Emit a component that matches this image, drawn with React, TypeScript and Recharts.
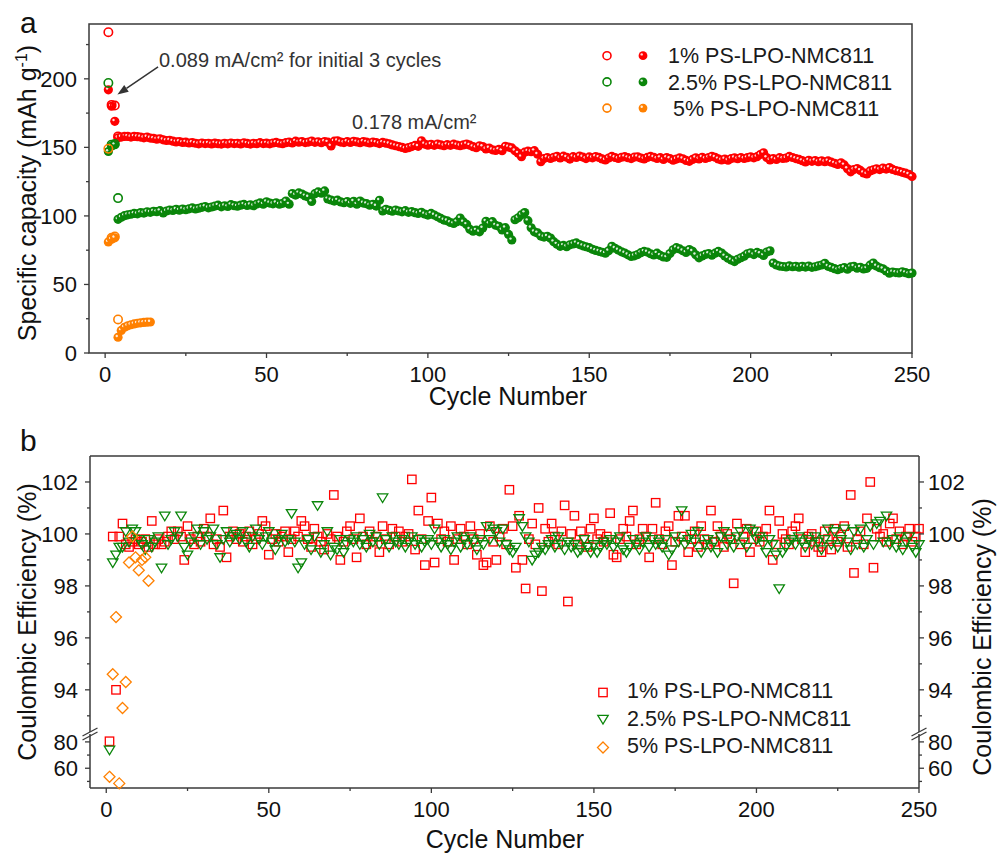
import React from 'react';
import { ScatterChart, Scatter, XAxis, YAxis, ReferenceArea, ReferenceLine } from 'recharts';

const FONT = '"Liberation Sans", Arial, sans-serif';
const RED = '#ff0000';
const GREEN = '#0a860a';
const ORANGE = '#ff8000';
const AXIS = '#3a3a3a';
const INK = '#111';

// ---- panel a: specific capacity (mAh/g) ----
// open circles: charge capacity of the first cycles (cycle 1..4)
const redCharge = [234, 181, 180.5, 158];
const greenCharge = [197, 152, 152.5, 113];
const orangeCharge = [149, 84, 85, 24.5];

// filled circles: discharge capacity, cycle 1..n
const redDischarge = [
  192, 180, 169, 157, 157.5, 158, 158, 157.5, 158, 157.8,
  157.5, 157, 157.5, 156.8, 156.5, 156, 156.3, 155.5, 155, 155.2,
  154.5, 154, 154.2, 153.6, 153.8, 153.2, 153.5, 153, 152.6, 153.2,
  152.8, 153, 152.5, 153.1, 152.7, 152.4, 153, 152.6, 153.2, 152.8,
  153, 152.5, 153.3, 152.9, 152.4, 153, 152.7, 153.4, 152.8, 153.1,
  152.6, 153.2, 153.6, 153, 152.7, 153.4, 153.9, 153.2, 154.5, 153.8,
  154.2, 153.5, 153.9, 154.6, 153.7, 154.1, 153.4, 154.3, 153.8, 151,
  154.5, 154.8, 153.9, 153.5, 154.2, 153.6, 154.4, 154, 153.4, 154.2,
  153.8, 153.2, 153.9, 153.5, 152.8, 153.6, 153.1, 152.6, 151.8, 151.2,
  150.6, 150, 149.2, 149.8, 150.6, 151.4, 150.8, 154.8, 152.4, 151.6,
  152.2, 151.5, 152.4, 151.8, 151.2, 152, 151.5, 152.3, 151.7, 151.2,
  151.8, 152.4, 151.6, 150.5, 149.8, 151.2, 150.6, 148.8, 149.5, 148.2,
  147.8, 148.5, 147.6, 150.8, 150.2, 149.6, 147.5, 145.8, 143.2, 146.5,
  147.2, 146.8, 147.6, 145, 139.5, 141.8, 142.6, 141.9, 142.8, 143.5,
  142.3, 143.6, 142.8, 141.5, 143.2, 142.6, 143.7, 142.9, 141.8, 143,
  142.4, 143.3, 142.7, 141.6, 140.8, 142.2, 143.4, 142.6, 141.9, 142.8,
  143.2, 142.5, 141.8, 142.9, 143.1, 142.2, 141.6, 142.7, 143.4, 142.8,
  141.9, 142.5, 141.2, 142.6, 141.8, 140.6, 141.5, 142.3, 141.7, 140.5,
  139.8, 141.2, 142.4, 141.6, 142.8, 141.9, 142.6, 143.5, 142.8, 141.6,
  140.8, 141.5, 140.6, 141.8, 142.4, 141.7, 142.6, 141.9, 142.5, 143.1,
  142.4, 143.2, 144.8, 146, 142.6, 140.8, 141.8, 141.2, 142.5, 141.9,
  142.2, 143.4, 142.6, 141.8, 141.2, 140.3, 139.4, 140.6, 139.8, 140.4,
  139.6, 140.2, 139.5, 140.1, 139.2, 138.4, 137.6, 138.8, 137.2, 134.5,
  132.2, 133.8, 134.6, 133.2, 131.4, 130.6, 132.8, 133.6, 134.4, 133.8,
  134.9, 134.2, 135.3, 133.9, 133.1, 132.6, 131.8, 131.2, 130.4, 128.8,
];

const greenDischarge = [
  147, 151, 152, 97.5, 99, 100.2, 100.8, 101.2, 101.8, 101.5,
  102.4, 102.1, 103, 102.6, 103.4, 103.1, 103.8, 102.2, 103.6, 104.3,
  104, 104.8, 104.2, 105, 104.5, 105.2, 105.8, 105.1, 105.6, 106.3,
  106.8, 105.9, 106.5, 107.2, 107.8, 106.6, 107.4, 106.9, 108.2, 107.5,
  107.1, 107.8, 108.4, 107.6, 108.1, 107.4, 108.7, 109.5, 108.6, 110.3,
  109.4, 108.8, 109.6, 108.5, 109.2, 110.8, 108.6, 116.3, 115.2, 116.8,
  115.9, 114.6, 113.8, 110.5, 116.2, 117.5, 116.6, 118.2, 112.4, 111.6,
  110.8, 111.5, 110.2, 109.6, 110.5, 109.2, 110.7, 108.6, 110.8, 109.4,
  108.9, 107.8, 108.5, 107.2, 111.4, 103.6, 104.8, 104.1, 103.4, 104.3,
  103.6, 103, 103.8, 102.6, 103.2, 102.4, 101.8, 102.6, 101.4, 100.6,
  101.8, 100.6, 99.4, 98.2, 97, 96.4, 95.2, 94.5, 95.8, 98.4,
  95.6, 93.8, 90.2, 88.9, 89.6, 88.4, 91.2, 96.1, 94.4, 95.8,
  93.2, 92.4, 89.8, 91.4, 86.5, 82.5, 97.2, 98.6, 100.8, 102.4,
  96.5, 91.3, 88.4, 87.6, 85.3, 84.6, 85.1, 83.8, 81.2, 79.4,
  77.8, 78.5, 77.6, 78.9, 79.6, 80.3, 79.1, 78.2, 77.5, 76.8,
  75.6, 74.8, 74.2, 73.5, 72.8, 74.6, 77.8, 76.4, 75.1, 73.8,
  72.9, 71.6, 70.4, 70.9, 71.8, 73.2, 74.1, 73.6, 72.4, 71.5,
  72.8, 71.2, 70.1, 69.8, 72.6, 75.3, 76.8, 75.9, 74.6, 73.4,
  75.5, 74.2, 71.6, 69.4, 70.8, 71.9, 72.6, 71.4, 72.8, 74.1,
  72.9, 70.8, 69.2, 67.8, 66.7, 68.4, 69.5, 70.6, 72.4, 73.1,
  71.8, 73.4, 72.6, 71.2, 73.6, 74.5, 65.6, 64.2, 63.4, 63.1,
  62.8, 63.5, 62.9, 63.3, 62.6, 63.2, 62.7, 63.4, 62.5, 62.9,
  63.6, 64.2, 65.4, 63.2, 62.4, 61.5, 60.8, 61.6, 62.3, 61.1,
  62.8, 63.2, 61.9, 62.5, 61.3, 61.8, 64.1, 65.6, 63.4, 62.2,
  61.4, 59.8, 58.2, 59.1, 58.7, 58.4, 59.2, 58.6, 57.9, 58.3,
];

const orangeDischarge = [81, 83, 84, 11.5, 16.5, 18.8, 19.8, 20.6, 21.2, 21.7, 22, 22.3, 22.5, 22.6];

// ---- panel b: coulombic efficiency (%) ----
const redCE = [
  80.5, 99.9, 94.0, 99.9, 100.4, 99.6, 99.5, 99.7, 99.8, 99.6,
  99.7, 99.8, 99.5, 100.5, 99.6, 99.8, 99.6, 99.7, 99.9, 100.1,
  99.8, 100.1, 99.9, 99.0, 100.3, 99.8, 99.6, 99.9, 99.7, 100.2,
  99.9, 100.6, 99.6, 99.8, 99.5, 100.9, 99.1, 99.9, 100.1, 99.8,
  100.0, 99.7, 99.9, 100.1, 99.6, 99.8, 100.0, 100.5, 100.3, 99.2,
  99.8, 100.0, 99.7, 99.9, 100.1, 99.3, 99.8, 100.1, 99.9, 100.5,
  100.3, 99.8, 99.5, 100.2, 99.9, 99.7, 99.4, 100.0, 99.8, 101.5,
  99.9, 99.0, 99.7, 100.1, 100.3, 99.8, 99.1, 100.6, 99.9, 99.6,
  100.1, 99.7, 99.9, 99.3, 100.3, 99.8, 99.6, 100.2, 99.9, 100.1,
  99.7, 99.9, 100.0, 102.1, 99.4, 100.9, 99.8, 98.8, 100.5, 101.4,
  98.9, 100.4, 99.8, 100.1, 99.7, 100.3, 99.0, 99.8, 100.2, 99.9,
  99.6, 100.3, 99.8, 99.2, 100.0, 98.8, 98.9, 100.3, 99.7, 99.0,
  99.9, 100.2, 99.6, 101.7, 100.3, 98.7, 100.7, 99.0, 97.9, 99.8,
  100.4, 99.6, 101.0, 97.8, 100.2, 99.7, 100.4, 99.9, 99.6, 100.1,
  101.1, 97.4, 100.0, 100.7, 99.6, 100.1, 99.8, 99.5, 100.2, 100.6,
  99.8, 100.0, 99.7, 99.9, 100.8, 99.2, 99.1, 99.8, 100.2, 99.9,
  100.5, 100.9, 99.6, 99.8, 100.2, 99.9, 99.1, 100.2, 101.2, 99.8,
  99.6, 100.1, 100.3, 98.8, 99.7, 100.7, 99.9, 100.7, 99.3, 99.8,
  100.1, 99.5, 100.3, 99.8, 99.6, 100.9, 99.7, 100.3, 99.9, 99.5,
  100.0, 99.8, 98.1, 100.4, 99.6, 99.9, 100.2, 99.3, 99.8, 100.1,
  99.7, 99.9, 100.2, 100.9, 99.0, 99.6, 100.5, 100.0, 99.8, 99.6,
  100.1, 100.3, 100.6, 99.8, 99.3, 99.9, 100.0, 99.7, 99.5, 99.3,
  100.1, 99.8, 99.4, 100.2, 99.7, 99.9, 100.3, 99.5, 101.5, 98.5,
  99.8, 100.1, 99.6, 100.6, 102.0, 98.7, 100.2, 99.9, 100.0, 99.7,
  100.4, 100.6, 99.8, 100.1, 99.6, 99.9, 100.2, 99.7, 99.9, 100.2,
];

const greenCE = [
  74.0, 98.9, 99.2, 99.5, 99.5, 100.1, 99.7, 100.2, 100.1, 99.8,
  99.6, 99.4, 99.8, 99.5, 99.7, 99.9, 98.7, 100.7, 99.6, 99.8,
  100.1, 99.9, 100.7, 99.5, 99.2, 99.7, 99.9, 100.2, 99.6, 100.1,
  99.8, 99.9, 100.2, 99.6, 99.1, 99.8, 100.1, 99.7, 99.9, 100.0,
  99.8, 100.1, 99.7, 99.5, 99.9, 100.2, 99.8, 99.6, 99.9, 100.1,
  99.7, 99.4, 99.8, 100.0, 99.7, 99.8, 100.8, 99.7, 98.7, 98.9,
  99.6, 99.8, 99.4, 99.9, 101.1, 99.3, 99.6, 100.1, 99.2, 99.5,
  99.4, 99.8, 99.3, 99.6, 99.8, 99.7, 99.9, 99.6, 99.8, 99.5,
  100.0, 99.7, 99.9, 99.6, 101.4, 99.8, 99.5, 99.9, 99.7, 99.6,
  99.8, 99.5, 99.7, 99.9, 99.6, 99.8, 99.5, 99.7, 99.8, 99.6,
  100.2, 99.7, 99.5, 99.8, 99.6, 99.4, 99.7, 99.9, 99.5, 99.8,
  99.6, 99.9, 99.7, 99.4, 99.8, 99.6, 100.3, 99.8, 100.2, 100.1,
  99.7, 100.2, 99.6, 99.4, 99.3, 99.5, 100.6, 100.3, 99.9, 99.7,
  99.0, 99.2, 99.3, 99.5, 99.4, 99.6, 99.8, 99.5, 99.9, 99.6,
  99.4, 99.7, 99.5, 99.6, 99.3, 99.4, 99.8, 99.5, 99.3, 99.6,
  99.3, 99.5, 99.7, 99.6, 99.8, 99.5, 99.7, 99.9, 99.4, 99.3,
  99.5, 99.8, 99.6, 99.4, 99.7, 99.9, 99.5, 99.8, 99.6, 99.7,
  99.5, 99.8, 99.2, 99.4, 99.9, 99.7, 100.9, 99.6, 99.8, 100.0,
  99.7, 100.1, 99.3, 99.6, 99.8, 99.5, 99.7, 99.3, 99.9, 100.1,
  99.6, 99.8, 99.5, 99.9, 100.1, 99.7, 99.5, 100.2, 100.1, 99.8,
  99.9, 99.6, 99.3, 99.8, 99.6, 99.2, 97.9, 99.3, 99.5, 99.7,
  99.8, 99.6, 99.9, 99.7, 99.5, 99.8, 99.6, 99.9, 99.7, 99.4,
  99.8, 100.2, 99.6, 100.1, 99.5, 99.8, 100.2, 99.7, 99.4, 100.1,
  99.6, 100.2, 99.5, 99.8, 100.3, 99.6, 100.4, 100.5, 99.7, 100.7,
  99.6, 99.8, 99.5, 99.9, 99.4, 99.7, 99.9, 99.5, 99.3, 99.6,
];

const orangeCE = [53.5, 94.6, 96.8, 48.5, 93.3, 94.3, 98.9, 99.9, 99.1, 98.6, 99.0, 99.1, 98.2];

const seriesNames = ['1% PS-LPO-NMC811', '2.5% PS-LPO-NMC811', '5% PS-LPO-NMC811'];

const xTicks = [0, 25, 50, 75, 100, 125, 150, 175, 200, 225, 250];
const xMajor = [0, 50, 100, 150, 200, 250];
const capTicks = [0, 25, 50, 75, 100, 125, 150, 175, 200, 225];
const capMajor = [0, 50, 100, 150, 200];
const ceHiTicks = [93, 94, 95, 96, 97, 98, 99, 100, 101, 102];
const ceHiMajor = [94, 96, 98, 100, 102];
const ceLoTicks = [50, 60, 70, 80];
const ceLoMajor = [60, 80];

const pts = (vals: number[]) => vals.map((v, i) => ({ cycle: i + 1, v }));
const hi = (vals: number[]) => pts(vals).filter((p) => p.v >= 90);
const lo = (vals: number[]) => pts(vals).filter((p) => p.v < 90);

// ---- marker shapes ----
const Sphere = ({ cx, cy, color, r = 4.6 }: any) => (
  <g>
    <circle cx={cx} cy={cy} r={r} fill={color} />
    <circle cx={cx - 1.3} cy={cy - 1.3} r={1.2} fill="#fff" fillOpacity={0.85} />
  </g>
);
const Ring = ({ cx, cy, color, r = 4.2 }: any) => (
  <circle cx={cx} cy={cy} r={r} fill="none" stroke={color} strokeWidth={1.6} />
);
const Square = ({ cx, cy }: any) => (
  <rect x={cx - 4.2} y={cy - 4.2} width={8.4} height={8.4} fill="none" stroke={RED} strokeWidth={1.3} />
);
const TriDown = ({ cx, cy }: any) => (
  <polygon points={`${cx - 5.2},${cy - 3.6} ${cx + 5.2},${cy - 3.6} ${cx},${cy + 5}`} fill="none" stroke={GREEN} strokeWidth={1.3} />
);
const Diamond = ({ cx, cy }: any) => (
  <polygon points={`${cx},${cy - 5.5} ${cx + 5.5},${cy} ${cx},${cy + 5.5} ${cx - 5.5},${cy}`} fill="none" stroke={ORANGE} strokeWidth={1.3} />
);

// ---- ticks (tickSize 0 so x/y are on the axis line) ----
const tick = (side: 'left' | 'right' | 'bottom', majors: number[]) => (p: any) => {
  const { x, y, payload } = p;
  const v = payload.value;
  const major = majors.includes(v);
  const len = major ? 5 : 3;
  const txt = { fontFamily: FONT, fontSize: 22, fill: INK };
  if (side === 'bottom') {
    return (
      <g>
        <line x1={x} x2={x} y1={y} y2={y + len} stroke={AXIS} strokeWidth={1.3} />
        {major && <text x={x} y={y + 29} textAnchor="middle" {...txt}>{v}</text>}
      </g>
    );
  }
  const s = side === 'left' ? -1 : 1;
  return (
    <g>
      <line x1={x} x2={x + s * len} y1={y} y2={y} stroke={AXIS} strokeWidth={1.3} />
      {major && (
        <text x={x + s * (side === 'left' ? 12 : 9)} y={y} dy="0.36em" textAnchor={side === 'left' ? 'end' : 'start'} {...txt}>
          {v}
        </text>
      )}
    </g>
  );
};

const Arrow = (p: any) => {
  const { x1, y1, x2, y2 } = p;
  const a = Math.atan2(y2 - y1, x2 - x1);
  const L = 11;
  const W = 4;
  const bx = x2 - L * Math.cos(a);
  const by = y2 - L * Math.sin(a);
  const px = -Math.sin(a) * W;
  const py = Math.cos(a) * W;
  return (
    <g>
      <line x1={x1} y1={y1} x2={bx} y2={by} stroke="#333" strokeWidth={1.5} />
      <polygon points={`${x2},${y2} ${bx + px},${by + py} ${bx - px},${by - py}`} fill="#333" />
    </g>
  );
};

const BreakMarks = (p: any) => {
  const { x1, x2, y1 } = p;
  const mark = (x: number) => (
    <g key={x}>
      <polygon points={`${x - 7.5},${y1 + 2} ${x + 7.5},${y1 - 6} ${x + 7.5},${y1 - 2} ${x - 7.5},${y1 + 6}`} fill="#fff" />
      <line x1={x - 7.5} y1={y1 + 2} x2={x + 7.5} y2={y1 - 6} stroke={AXIS} strokeWidth={1.3} />
      <line x1={x - 7.5} y1={y1 + 6} x2={x + 7.5} y2={y1 - 2} stroke={AXIS} strokeWidth={1.3} />
    </g>
  );
  return <g>{mark(x1)}{mark(x2)}</g>;
};

const axisLine = { stroke: AXIS, strokeWidth: 1.5 };

const App = () => {
  const title = { fontFamily: FONT, fontSize: 25, fill: INK };
  const leg = { fontFamily: FONT, fontSize: 21.5, fill: '#1a1a1a' };
  const colors = [RED, GREEN, ORANGE];
  return (
    <div style={{ position: 'absolute', left: 0, top: 0, width: 997, height: 853, background: '#fff' }}>
      {/* panel a */}
      <div style={{ position: 'absolute', left: 0, top: 0 }}>
        <ScatterChart width={997} height={420} margin={{ top: 24, right: 85, bottom: 27, left: 29 }}>
          <ReferenceArea x1={-5} x2={250} y1={0} y2={240} fill="none" stroke={AXIS} strokeWidth={1.5} ifOverflow="visible" />
          <XAxis type="number" dataKey="cycle" domain={[-5, 250]} ticks={xTicks} interval={0} tickSize={0} tickMargin={0}
            height={40} axisLine={false} tickLine={false} tick={tick('bottom', xMajor)} />
          <YAxis type="number" dataKey="v" domain={[0, 240]} ticks={capTicks} interval={0} tickSize={0} tickMargin={0}
            width={60} axisLine={false} tickLine={false} tick={tick('left', capMajor)} />
          <Scatter data={pts(redDischarge)} isAnimationActive={false} shape={(p: any) => <Sphere cx={p.cx} cy={p.cy} color={RED} />} />
          <Scatter data={pts(greenDischarge)} isAnimationActive={false} shape={(p: any) => <Sphere cx={p.cx} cy={p.cy} color={GREEN} />} />
          <Scatter data={pts(orangeDischarge)} isAnimationActive={false} shape={(p: any) => <Sphere cx={p.cx} cy={p.cy} color={ORANGE} />} />
          <Scatter data={pts(redCharge)} isAnimationActive={false} shape={(p: any) => <Ring cx={p.cx} cy={p.cy} color={RED} />} />
          <Scatter data={pts(greenCharge)} isAnimationActive={false} shape={(p: any) => <Ring cx={p.cx} cy={p.cy} color={GREEN} />} />
          <Scatter data={pts(orangeCharge)} isAnimationActive={false} shape={(p: any) => <Ring cx={p.cx} cy={p.cy} color={ORANGE} />} />
          <ReferenceLine segment={[{ x: 16.4, y: 208.8 }, { x: 3.8, y: 188.5 }]} shape={Arrow} ifOverflow="visible" />
        </ScatterChart>
      </div>

      {/* panel b, upper segment (92.3-103 %) */}
      <div style={{ position: 'absolute', left: 0, top: 430 }}>
        <ScatterChart width={997} height={304} margin={{ top: 26, right: 18, bottom: 0, left: 30 }}>
          <XAxis type="number" dataKey="cycle" domain={[-5, 250]} hide />
          <YAxis type="number" dataKey="v" domain={[92.3, 103]} ticks={ceHiTicks} interval={0} tickSize={0} tickMargin={0}
            width={60} axisLine={axisLine} tickLine={false} tick={tick('left', ceHiMajor)} />
          <YAxis yAxisId="r" orientation="right" type="number" dataKey="v" domain={[92.3, 103]} ticks={ceHiTicks} interval={0}
            tickSize={0} tickMargin={0} width={60} axisLine={axisLine} tickLine={false} tick={tick('right', ceHiMajor)} />
          <ReferenceLine y={103} stroke={AXIS} strokeWidth={1.5} ifOverflow="visible" />
          <Scatter data={hi(redCE)} isAnimationActive={false} shape={Square} />
          <Scatter data={hi(greenCE)} isAnimationActive={false} shape={TriDown} />
          <Scatter yAxisId="r" data={hi(orangeCE)} isAnimationActive={false} shape={Diamond} />
        </ScatterChart>
      </div>

      {/* panel b, lower segment (45-86 %) */}
      <div style={{ position: 'absolute', left: 0, top: 724 }}>
        <ScatterChart width={997} height={129} margin={{ top: 10, right: 18, bottom: 25, left: 30 }}>
          <XAxis type="number" dataKey="cycle" domain={[-5, 250]} ticks={xTicks} interval={0} tickSize={0} tickMargin={0}
            height={40} axisLine={axisLine} tickLine={false} tick={tick('bottom', xMajor)} />
          <YAxis type="number" dataKey="v" domain={[45, 86]} ticks={ceLoTicks} interval={0} tickSize={0} tickMargin={0}
            width={60} axisLine={axisLine} tickLine={false} tick={tick('left', ceLoMajor)} />
          <YAxis yAxisId="r" orientation="right" type="number" dataKey="v" domain={[45, 86]} ticks={ceLoTicks} interval={0}
            tickSize={0} tickMargin={0} width={60} axisLine={axisLine} tickLine={false} tick={tick('right', ceLoMajor)} />
          <Scatter data={lo(redCE)} isAnimationActive={false} shape={Square} />
          <Scatter data={lo(greenCE)} isAnimationActive={false} shape={TriDown} />
          <Scatter yAxisId="r" data={lo(orangeCE)} isAnimationActive={false} shape={Diamond} />
          <ReferenceLine y={86} ifOverflow="visible" shape={BreakMarks} />
        </ScatterChart>
      </div>

      {/* titles, annotations, legends */}
      <svg width={997} height={853} style={{ position: 'absolute', left: 0, top: 0, pointerEvents: 'none' }}>
        <text x={20} y={33} fontFamily={FONT} fontSize={30} fill={INK}>a</text>
        <text x={20} y={451} fontFamily={FONT} fontSize={30} fill={INK}>b</text>

        <text transform="translate(36,193) rotate(-90)" textAnchor="middle" {...title}>
          Specific capacity (mAh g<tspan dy={-9} fontSize={16}>-1</tspan><tspan dy={9}>)</tspan>
        </text>
        <text x={508} y={405} textAnchor="middle" {...title}>Cycle Number</text>
        <text transform="translate(36,622) rotate(-90)" textAnchor="middle" {...title}>Coulombic Efficiency (%)</text>
        <text transform="translate(991,637) rotate(-90)" textAnchor="middle" {...title}>Coulombic Efficiency (%)</text>
        <text x={505} y={848} textAnchor="middle" {...title}>Cycle Number</text>

        <text x={159} y={67} fontFamily={FONT} fontSize={20} fill="#333">0.089 mA/cm² for initial 3 cycles</text>
        <text x={352} y={129} fontFamily={FONT} fontSize={20} fill="#333">0.178 mA/cm²</text>

        {seriesNames.map((n, i) => {
          const cy = 55.7 + i * 26.2;
          return (
            <g key={n}>
              <Ring cx={607} cy={cy} color={colors[i]} r={4} />
              <Sphere cx={643} cy={cy} color={colors[i]} r={4.4} />
              <text x={i === 2 ? 673 : 668} y={cy + 7.6} {...leg}>{n}</text>
            </g>
          );
        })}

        {seriesNames.map((n, i) => {
          const cy = 690.5 + i * 27.5;
          const M = [Square, TriDown, Diamond][i];
          return (
            <g key={'b' + n}>
              <M cx={603} cy={i === 1 ? cy + 1 : cy + 2} />
              <text x={627} y={cy + 7.8} {...leg}>{n}</text>
            </g>
          );
        })}
      </svg>
    </div>
  );
};

export default App;
